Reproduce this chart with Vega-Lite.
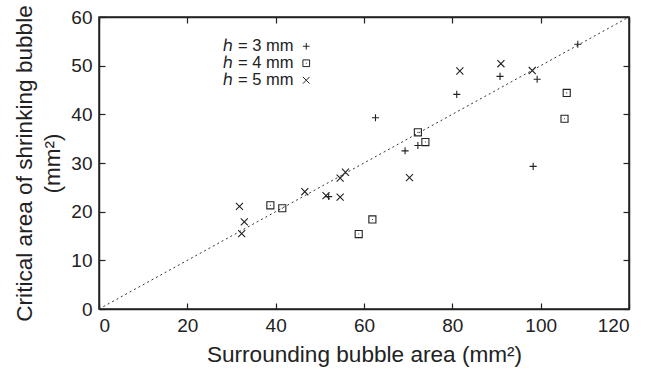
{
  "$schema": "https://vega.github.io/schema/vega-lite/v6.json",
  "width": 530,
  "height": 292,
  "autosize": "none",
  "padding": {"left": 99, "top": 17, "right": 32, "bottom": 61},
  "background": "white",
  "config": {
    "font": "Liberation Sans",
    "view": {"stroke": "#222", "strokeWidth": 1.5},
    "axis": {
      "grid": false,
      "domainColor": "#222",
      "domainWidth": 1.5,
      "tickColor": "#222",
      "tickWidth": 1.2,
      "tickSize": -6,
      "labelColor": "#222",
      "titleColor": "#222",
      "labelFont": "Liberation Sans",
      "titleFont": "Liberation Sans",
      "labelFontSize": 19,
      "titleFontSize": 22.6,
      "titleFontWeight": "normal"
    }
  },
  "datasets": {
    "pts": [
      {"s": "3", "area": 52.0, "crit": 23.1},
      {"s": "3", "area": 62.6, "crit": 39.3},
      {"s": "3", "area": 69.3, "crit": 32.5},
      {"s": "3", "area": 72.2, "crit": 33.6},
      {"s": "3", "area": 81.0, "crit": 44.1},
      {"s": "3", "area": 90.8, "crit": 47.8},
      {"s": "3", "area": 99.2, "crit": 47.2},
      {"s": "3", "area": 98.3, "crit": 29.3},
      {"s": "3", "area": 108.4, "crit": 54.4},
      {"s": "4", "area": 38.8, "crit": 21.3},
      {"s": "4", "area": 41.5, "crit": 20.7},
      {"s": "4", "area": 58.8, "crit": 15.4},
      {"s": "4", "area": 61.9, "crit": 18.4},
      {"s": "4", "area": 72.2, "crit": 36.3},
      {"s": "4", "area": 73.9, "crit": 34.3},
      {"s": "4", "area": 105.9, "crit": 44.4},
      {"s": "4", "area": 105.4, "crit": 39.1},
      {"s": "5", "area": 31.8, "crit": 21.1},
      {"s": "5", "area": 32.9, "crit": 17.9},
      {"s": "5", "area": 32.3, "crit": 15.5},
      {"s": "5", "area": 46.6, "crit": 24.1},
      {"s": "5", "area": 51.4, "crit": 23.3},
      {"s": "5", "area": 54.6, "crit": 23.0},
      {"s": "5", "area": 54.6, "crit": 26.9},
      {"s": "5", "area": 55.8, "crit": 28.1},
      {"s": "5", "area": 70.3, "crit": 27.0},
      {"s": "5", "area": 81.7, "crit": 48.9},
      {"s": "5", "area": 91.0, "crit": 50.4},
      {"s": "5", "area": 98.1, "crit": 49.0}
    ],
    "diag": [{"x1": 0, "y1": 0, "x2": 120, "y2": 60}]
  },
  "layer": [
    {
      "data": {"name": "diag"},
      "mark": {"type": "rule", "stroke": "#333", "strokeWidth": 1, "strokeDash": [2, 3]},
      "encoding": {
        "x": {"field": "x1", "type": "quantitative", "scale": {"domain": [0, 120], "nice": false},
              "axis": {"orient": "top", "labels": false, "title": null, "values": [0, 20, 40, 60, 80, 100, 120]}},
        "y": {"field": "y1", "type": "quantitative", "scale": {"domain": [0, 60], "nice": false},
              "axis": {"orient": "right", "labels": false, "title": null, "values": [0, 10, 20, 30, 40, 50, 60]}},
        "x2": {"field": "x2"},
        "y2": {"field": "y2"}
      }
    },
    {
      "data": {"name": "pts"},
      "mark": {"type": "point", "filled": false, "strokeWidth": 1.1, "size": 50, "opacity": 1},
      "encoding": {
        "x": {"field": "area", "type": "quantitative",
              "axis": {"orient": "bottom", "title": "Surrounding bubble area (mm²)", "values": [0, 20, 40, 60, 80, 100, 120], "labelPadding": 13, "titlePadding": 8}},
        "y": {"field": "crit", "type": "quantitative",
              "axis": {"orient": "left", "title": ["Critical area of shrinking bubble", "(mm²)"], "values": [0, 10, 20, 30, 40, 50, 60], "labelPadding": 13, "titlePadding": 6, "titleLineHeight": 28}},
        "shape": {
          "field": "s", "type": "nominal",
          "scale": {"domain": ["3", "4", "5"], "range": [
            "M-1,0H1M0,-1V1",
            "M-1,-1H1V1H-1ZM-0.12,0H0.12",
            "M-1,-1L1,1M-1,1L1,-1"
          ]},
          "legend": {
            "title": null,
            "orient": "none",
            "legendX": 199,
            "legendY": 21,
            "padding": 0,
            "labelExpr": "'ℎ = ' + datum.label + ' mm'",
            "labelAlign": "right",
            "labelOffset": -21,
            "labelFontSize": 16.5,
            "labelColor": "#222",
            "labelFont": "Liberation Sans",
            "rowPadding": 0,
            "symbolSize": 45,
            "symbolStrokeColor": "#222",
            "symbolStrokeWidth": 1,
            "symbolFillColor": "transparent"
          }
        },
        "color": {"value": "#222"}
      }
    }
  ],
  "resolve": {"axis": {"x": "independent", "y": "independent"}}
}
